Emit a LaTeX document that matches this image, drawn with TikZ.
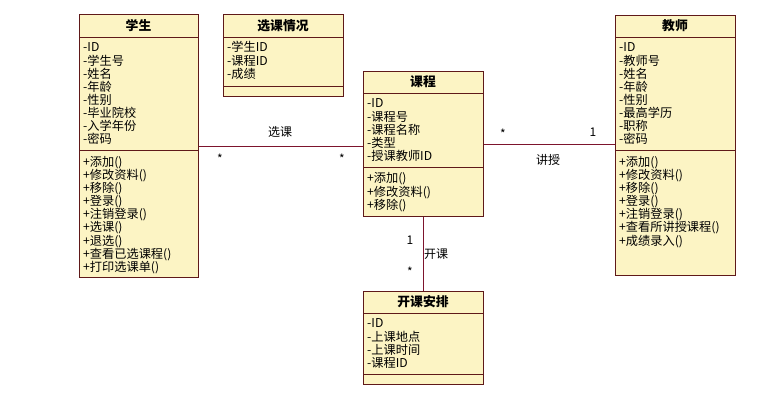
\documentclass[tikz,border=0pt]{standalone}
\usepackage{fontspec}
\setmainfont{Noto Sans CJK SC}
\definecolor{boxfill}{RGB}{252,244,196}
\definecolor{boxline}{RGB}{95,25,25}
\definecolor{assoc}{RGB}{125,20,45}
\newcommand\firstln{\rule{0pt}{10.7pt}}
\tikzset{
 classbox/.style={draw=boxline, fill=boxfill, line width=0.8pt, rectangle, inner sep=0pt, anchor=north west},
 divider/.style={draw=boxline, line width=0.8pt},
 ctitle/.style={font=\bfseries\fontsize{12.8}{14}\selectfont, inner sep=0pt},
 members/.style={font=\fontsize{12.2}{13.1}\selectfont, align=left, anchor=north west, inner sep=0pt},
 assocline/.style={draw=assoc, line width=0.8pt},
 lbl/.style={font=\fontsize{12}{13}\selectfont, inner sep=0pt},
}
\begin{document}
\begin{tikzpicture}[x=1pt,y=-1pt]
\useasboundingbox[fill=white] (0,0) rectangle (769,407);

% 学生
\node[classbox, minimum width=119pt, minimum height=263pt] (stu) at (79,14) {};
\draw[divider] ([yshift=-23pt]stu.north west) -- ([yshift=-23pt]stu.north east);
\draw[divider] ([yshift=-136pt]stu.north west) -- ([yshift=-136pt]stu.north east);
\node[ctitle] (stuT) at (138.5,25.5) {学生};
\node[members] (stuA) at (83,41) {\firstln-ID\\-学生号\\-姓名\\-年龄\\-性别\\-毕业院校\\-入学年份\\-密码};
\node[members] (stuM) at (83,155.5) {\firstln+添加()\\+修改资料()\\+移除()\\+登录()\\+注销登录()\\+选课()\\+退选()\\+查看已选课程()\\+打印选课单()};

% 选课情况
\node[classbox, minimum width=120pt, minimum height=82pt] (sel) at (223,14) {};
\draw[divider] ([yshift=-23pt]sel.north west) -- ([yshift=-23pt]sel.north east);
\draw[divider] ([yshift=-72pt]sel.north west) -- ([yshift=-72pt]sel.north east);
\node[ctitle] (selT) at (283,25.5) {选课情况};
\node[members] (selA) at (227,41) {\firstln-学生ID\\-课程ID\\-成绩};

% 课程
\node[classbox, minimum width=120pt, minimum height=145pt] (course) at (363,71) {};
\draw[divider] ([yshift=-22pt]course.north west) -- ([yshift=-22pt]course.north east);
\draw[divider] ([yshift=-96pt]course.north west) -- ([yshift=-96pt]course.north east);
\node[ctitle] (courseT) at (423,82) {课程};
\node[members] (courseA) at (367,97) {\firstln-ID\\-课程号\\-课程名称\\-类型\\-授课教师ID};
\node[members] (courseM) at (367,172) {\firstln+添加()\\+修改资料()\\+移除()};

% 开课安排
\node[classbox, minimum width=120pt, minimum height=93pt] (arr) at (363,291) {};
\draw[divider] ([yshift=-22pt]arr.north west) -- ([yshift=-22pt]arr.north east);
\draw[divider] ([yshift=-83pt]arr.north west) -- ([yshift=-83pt]arr.north east);
\node[ctitle] (arrT) at (423,302) {开课安排};
\node[members] (arrA) at (367,317) {\firstln-ID\\-上课地点\\-上课时间\\-课程ID};

% 教师
\node[classbox, minimum width=120pt, minimum height=260pt] (teacher) at (615,15) {};
\draw[divider] ([yshift=-22pt]teacher.north west) -- ([yshift=-22pt]teacher.north east);
\draw[divider] ([yshift=-135pt]teacher.north west) -- ([yshift=-135pt]teacher.north east);
\node[ctitle] (teacherT) at (675,26) {教师};
\node[members] (teacherA) at (619,41) {\firstln-ID\\-教师号\\-姓名\\-年龄\\-性别\\-最高学历\\-职称\\-密码};
\node[members] (teacherM) at (619,155.5) {\firstln+添加()\\+修改资料()\\+移除()\\+登录()\\+注销登录()\\+查看所讲授课程()\\+成绩录入()};

% associations
\draw[assocline] (stu.east) -- (stu.east -| course.west);
\draw[assocline] (course.east) -- (course.east -| teacher.west);
\draw[assocline] (course.south) -- (arr.north);

% labels
\node[lbl] (l1) at (280,132) {选课};
\node[lbl] (m1) at (220,159) {*};
\node[lbl] (m2) at (342,159) {*};
\node[lbl] (m3) at (503,134) {*};
\node[lbl] (m4) at (593,132) {1};
\node[lbl] (l2) at (548,160) {讲授};
\node[lbl] (m5) at (410,240) {1};
\node[lbl] (l3) at (436,254) {开课};
\node[lbl] (m6) at (410,272) {*};
\end{tikzpicture}
\end{document}
